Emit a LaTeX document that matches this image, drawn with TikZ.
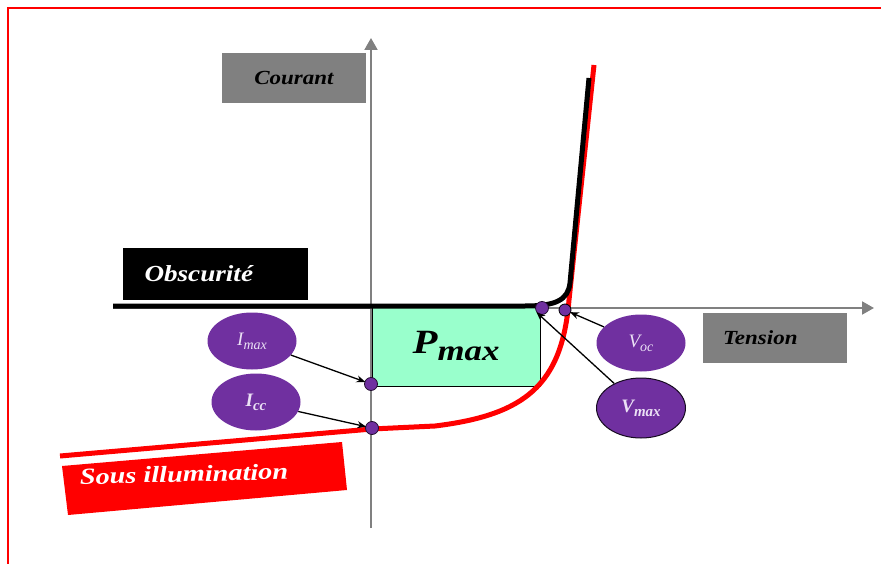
\documentclass[tikz,border=0pt]{standalone}
\usepackage{fontspec}
\setmainfont{Liberation Serif}
\usetikzlibrary{shapes.geometric, arrows.meta}
\definecolor{VioletCell}{RGB}{112, 48, 160}
\definecolor{MintPmax}{RGB}{153, 255, 204}
\definecolor{AxeGris}{RGB}{128, 128, 128}
\definecolor{Lavande}{RGB}{235, 225, 245}

\begin{document}
\begin{tikzpicture}[x=1pt, y=-1pt,
    boitegrise/.style={fill=AxeGris, minimum height=50pt, inner ysep=0pt},
    bulle/.style={ellipse, fill=VioletCell, minimum width=89pt, minimum height=57pt, inner sep=0pt, text=Lavande},
    point/.style={circle, fill=VioletCell, draw=black!70!VioletCell, line width=0.8pt, minimum size=13pt, inner sep=0pt},
    fleche/.style={-{Stealth[length=9pt, width=7pt]}, line width=1.3pt, shorten >=-1pt}]
    \useasboundingbox (0,0) rectangle (881,564);

    % Cadre
    \draw[red, line width=1.6pt] (8,564) -- (8,8) -- (881,8);

    % Axes
    \draw[AxeGris, line width=2pt, -{Triangle[length=12pt, width=13pt]}] (371,528) -- (371,38);
    \draw[AxeGris, line width=2pt, -{Triangle[length=12pt, width=13pt]}] (113,308) -- (874,308);

    % Rectangle de puissance maximale
    \node[draw=black, fill=MintPmax, line width=0.8pt, minimum width=168pt, minimum height=79pt, inner sep=0pt] (pmax) at (456,346.5)
        {\scalebox{1.2}[1]{\fontsize{34}{34}\selectfont\bfseries\itshape P\raisebox{-7pt}{\fontsize{29}{29}\selectfont max}}};

    % Caracteristique sous illumination
    \draw[red, line width=5pt] (60,456) -- (372,429) -- (435,426) .. controls (525,415) and (562,385) .. (569,300) -- (594,65);

    % Caracteristique dans l'obscurite
    \draw[line width=5pt] (113,306) -- (525,306) .. controls (556,306) and (568,300) .. (570,283) -- (589,78);

    % Etiquettes
    \node[boitegrise, minimum width=144pt] (courant) at (294,78) {\fontsize{20}{20}\selectfont\bfseries\itshape\scalebox{1.15}[1]{Courant}};
    \node[boitegrise, minimum width=144pt, text width=104pt, inner xsep=20pt, align=left] (tension) at (775,338) {\fontsize{20}{20}\selectfont\bfseries\itshape\scalebox{1.15}[1]{Tension}};
    \node[fill=black, minimum height=52pt, text width=141pt, inner xsep=22pt, inner ysep=0pt, align=left, text=white] (obscurite) at (215,274) {\fontsize{23}{23}\selectfont\bfseries\itshape\scalebox{1.18}[1]{Obscurité}};
    \fill[red] (62,466) -- (342,442) -- (347,490) -- (68,515) -- cycle;
    \node[text=white, rotate=1.5] (sousillum) at (184,474) {\fontsize{23}{23}\selectfont\bfseries\itshape\scalebox{1.23}[1]{Sous illumination}};

    % Points remarquables
    \node[point] (pimax) at (371,384) {};
    \node[point] (picc) at (372,428) {};
    \node[point] (pvmax) at (542,308) {};
    \node[point, minimum size=12pt, draw=black] (pvoc) at (565,310) {};

    % Bulles
    \node[bulle] (imax) at (252,341) {\fontsize{19}{19}\selectfont\itshape I\raisebox{-4pt}{\fontsize{14}{14}\selectfont max}};
    \node[bulle] (icc) at (256,402) {\fontsize{19}{19}\selectfont\bfseries\itshape I\raisebox{-4pt}{\fontsize{15}{15}\selectfont cc}};
    \node[bulle] (voc) at (641,343) {\fontsize{19}{19}\selectfont\itshape V\raisebox{-4pt}{\fontsize{14}{14}\selectfont oc}};
    \node[bulle, draw=black!80!VioletCell, line width=1pt, minimum height=60pt] (vmax) at (641,408) {\fontsize{19}{19}\selectfont\bfseries\itshape V\raisebox{-4pt}{\fontsize{15}{15}\selectfont max}};

    % Fleches
    \draw[fleche] (imax) -- (pimax);
    \draw[fleche] (icc) -- (picc);
    \draw[fleche] (voc) -- (pvoc);
    \draw[fleche] (vmax) -- (pvmax.south west);
\end{tikzpicture}
\end{document}
